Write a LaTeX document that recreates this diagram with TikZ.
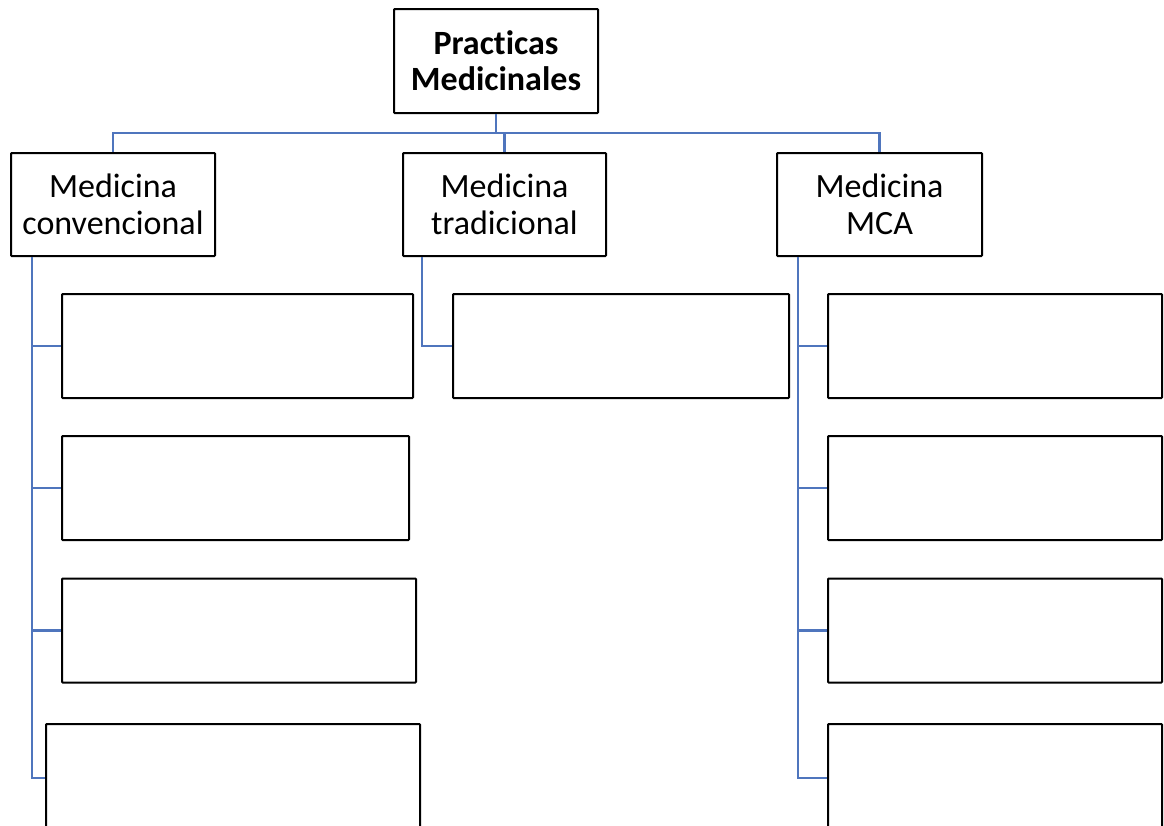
\documentclass[tikz,border=0pt]{standalone}
\usepackage{fontspec}
\setmainfont{Carlito}[Ligatures={NoCommon,NoRare}]
\usetikzlibrary{positioning}
\definecolor{linkblue}{RGB}{79,117,189}

\begin{document}
\begin{tikzpicture}[x=1pt,y=-1pt,
  box/.style={draw=black,line width=2pt,rounded corners=0.8pt,inner sep=0pt,align=center,
    font=\fontsize{34}{37}\selectfont},
  leaf/.style={box,minimum height=104pt},
  link/.style={draw=linkblue,line width=2.4pt}]
\useasboundingbox (0,0) rectangle (1164,825);
% top and second row
\node[box,minimum width=204pt,minimum height=104pt,font=\fontsize{34}{36}\selectfont\bfseries] (top) at (496,61) {Practicas\\Medicinales};
\node[box,minimum width=204pt,minimum height=103pt] (conv) at (113,204.5) {Medicina\\convencional};
\node[box,minimum width=203pt,minimum height=103pt] (trad) at (504.5,204.5) {Medicina\\tradicional};
\node[box,minimum width=205pt,minimum height=103pt] (mca) at (879.5,204.5) {Medicina\\MCA};
% leaves
\node[leaf,minimum width=351pt] (c1) at (237.5,346) {};
\node[leaf,minimum width=347pt] (c2) at (235.5,488) {};
\node[leaf,minimum width=354pt] (c3) at (239,630.5) {};
\node[leaf,minimum width=374pt] (c4) at (233,776) {};
\node[leaf,minimum width=336pt] (t1) at (621,346) {};
\node[leaf,minimum width=334pt] (m1) at (995,346) {};
\node[leaf,minimum width=334pt] (m2) at (995,488) {};
\node[leaf,minimum width=334pt] (m3) at (995,630.5) {};
\node[leaf,minimum width=334pt] (m4) at (995,776) {};
\coordinate (bus) at (0,133);
\coordinate (cv) at ([xshift=22pt]conv.south west);
\coordinate (tv) at ([xshift=20pt]trad.south west);
\coordinate (mv) at ([xshift=22pt]mca.south west);
% connectors
\draw[link] (top.south) -- (top.south |- bus);
\draw[link] (conv.north) -- (conv.north |- bus) -- (mca.north |- bus) -- (mca.north);
\draw[link] (trad.north) -- (trad.north |- bus);
\draw[link] (cv) |- ([yshift=-2pt]c4.west);
\draw[link] (tv) |- (t1.west);
\draw[link] (mv) |- ([yshift=-2pt]m4.west);
\foreach \n in {c1,c2,c3}
  \draw[link] (cv |- \n.west) -- (\n.west);
\foreach \n in {m1,m2,m3}
  \draw[link] (mv |- \n.west) -- (\n.west);
\end{tikzpicture}
\end{document}
